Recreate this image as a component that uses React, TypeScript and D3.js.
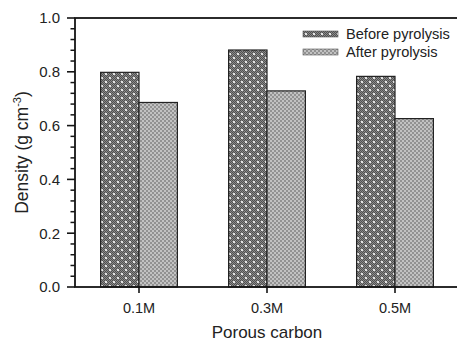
import React from "react";
import * as d3 from "d3";

const categories = ["0.1M", "0.3M", "0.5M"];
const seriesNames = ["Before pyrolysis", "After pyrolysis"];
const beforeValues = [0.798, 0.881, 0.783];
const afterValues = [0.686, 0.729, 0.626];
const yTicks = [0, 0.2, 0.4, 0.6, 0.8, 1.0];

const W = 457;
const H = 341;
const margin = { left: 75, top: 18, right: -2, bottom: 54 };

export default function App() {
  const x = d3
    .scaleBand<string>()
    .domain(categories)
    .range([margin.left, W - margin.right])
    .padding(0);
  const y = d3
    .scaleLinear()
    .domain([0, 1])
    .range([H - margin.bottom, margin.top]);
  const bw = x.bandwidth() * 0.3;
  const minorTicks = d3.range(0, 1.0001, 0.04).filter(
    (v) => Math.abs(v * 5 - Math.round(v * 5)) > 1e-6
  );
  const font = "'Liberation Sans', Arial, sans-serif";
  const series = [beforeValues, afterValues];
  const fills = ["url(#pBefore)", "url(#pAfter)"];

  const checker = (size: number, cell: number, a: string, b: string) => {
    const cells: React.ReactElement[] = [];
    const n = size / cell;
    for (let i = 0; i < n; i++)
      for (let j = 0; j < n; j++)
        if ((i + j) % 2 === 1)
          cells.push(
            <rect key={`${i}-${j}`} x={i * cell} y={j * cell} width={cell} height={cell} fill={b} />
          );
    return [<rect key="bg" x={0} y={0} width={size} height={size} fill={a} />, ...cells];
  };

  const y0 = y(0);
  const ink = "#151515";
  return (
    <svg width={W} height={H} style={{ display: "block", position: "absolute", left: 0, top: 0 }}>
      <defs>
        <pattern id="pBefore" patternUnits="userSpaceOnUse" width={8} height={8}>
          {checker(8, 1, "#505050", "#8a8a8a")}
          <rect x={1} y={1} width={2} height={2} fill="#e4e4e4" />
          <rect x={5} y={5} width={2} height={2} fill="#e4e4e4" />
        </pattern>
        <pattern id="pAfter" patternUnits="userSpaceOnUse" width={8} height={8}>
          {checker(8, 2, "#929292", "#c2c2c2")}
        </pattern>
      </defs>
      <rect x={0} y={0} width={W} height={H} fill="#fff" />

      {categories.map((c, i) => {
        const cx = (x(c) as number) + x.bandwidth() / 2;
        return series.map((vals, s) => (
          <rect
            key={`${c}-${s}`}
            x={s === 0 ? cx - bw : cx}
            y={y(vals[i])}
            width={bw}
            height={y0 - y(vals[i])}
            fill={fills[s]}
            stroke="#222"
            strokeWidth={1.2}
          />
        ));
      })}

      <rect
        x={margin.left}
        y={margin.top}
        width={W - margin.right - margin.left}
        height={y0 - margin.top}
        fill="none"
        stroke={ink}
        strokeWidth={1.8}
      />

      {yTicks.map((t) => (
        <g key={t}>
          <line x1={margin.left - 8} x2={margin.left} y1={y(t)} y2={y(t)} stroke={ink} strokeWidth={1.6} />
          <text x={margin.left - 15} y={y(t)} dy="0.36em" textAnchor="end" fontFamily={font} fontSize={15} fill="#222">
            {t.toFixed(1)}
          </text>
        </g>
      ))}
      {minorTicks.map((t) => (
        <line key={t} x1={margin.left - 4.5} x2={margin.left} y1={y(t)} y2={y(t)} stroke={ink} strokeWidth={1.5} />
      ))}

      {categories.map((c) => {
        const cx = (x(c) as number) + x.bandwidth() / 2;
        return (
          <g key={c}>
            <line x1={cx} x2={cx} y1={y0} y2={y0 + 6} stroke={ink} strokeWidth={1.6} />
            <text x={cx} y={313} textAnchor="middle" fontFamily={font} fontSize={14.5} fill="#222">
              {c}
            </text>
          </g>
        );
      })}

      <text x={267} y={338} textAnchor="middle" fontFamily={font} fontSize={17} fill="#222">
        Porous carbon
      </text>
      <text
        transform={`translate(28, ${(margin.top + y0) / 2}) rotate(-90)`}
        textAnchor="middle"
        fontFamily={font}
        fontSize={17.5}
        fill="#222"
      >
        Density (g cm<tspan dy="-7" fontSize={11}>-3</tspan><tspan dy="7">)</tspan>
      </text>

      {seriesNames.map((n, i) => (
        <g key={n}>
          <rect x={303} y={31 + i * 18} width={35} height={6} fill={fills[i]} stroke="#555" strokeWidth={0.6} />
          <text x={346} y={38.5 + i * 18} fontFamily={font} fontSize={14.6} fill="#222">
            {n}
          </text>
        </g>
      ))}
    </svg>
  );
}
